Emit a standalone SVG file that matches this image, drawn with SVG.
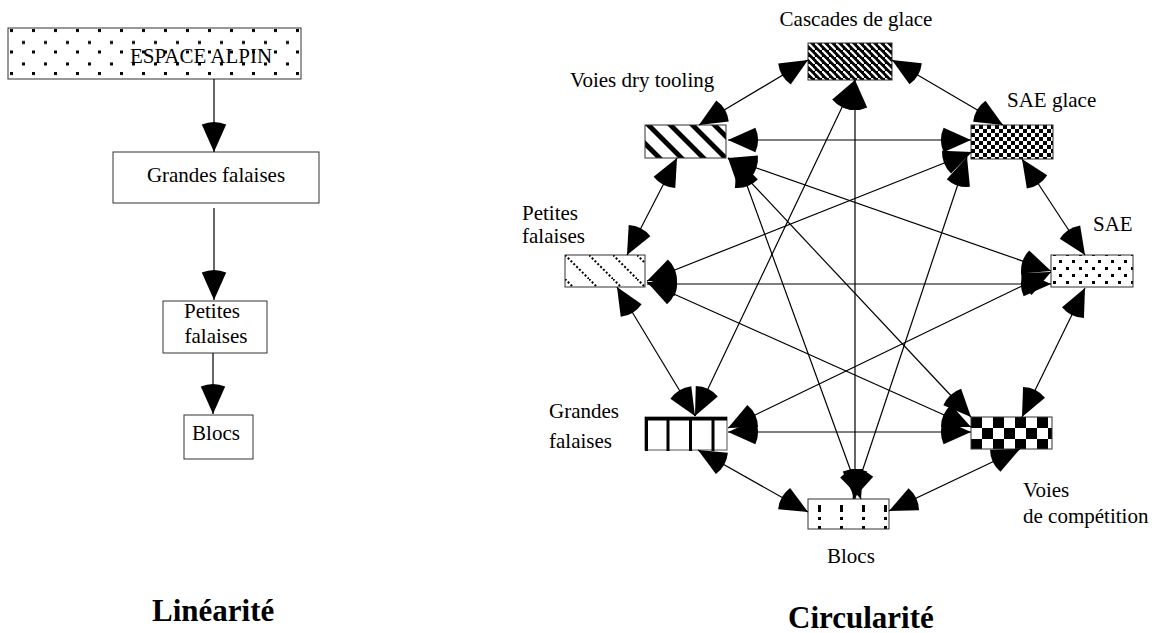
<svg xmlns="http://www.w3.org/2000/svg" width="1158" height="633" viewBox="0 0 1158 633" font-family="'Liberation Serif', Tinos, 'DejaVu Serif', 'Noto Serif', serif">
<style>
text{font-family:"Liberation Serif",Tinos,"DejaVu Serif","Noto Serif",serif;font-size:21px;fill:#000}
.t{font-weight:bold;font-size:31px}
.box{stroke:#333;stroke-width:1}
.e{stroke:#000;stroke-width:1.2;fill:none;marker-start:url(#h);marker-end:url(#h)}
.s{stroke:#000;stroke-width:1.2;fill:none;marker-end:url(#h)}
</style>
<defs>
<marker id="h" markerUnits="userSpaceOnUse" orient="auto-start-reverse" refX="0" refY="0" markerWidth="40" markerHeight="40" overflow="visible">
<path d="M0,0 L-27.4,-12.2 A30,30 0 0 0 -27.4,12.2 Z" fill="#000"/>
</marker>
<pattern id="pAlp" patternUnits="userSpaceOnUse" x="0" y="28" width="22" height="21.5">
<rect x="10" y="1" width="3" height="3" fill="#000"/>
<rect x="0" y="13" width="3" height="3" fill="#000"/>
</pattern>
<pattern id="pCas" patternUnits="userSpaceOnUse" x="808" y="43" width="7" height="7">
<rect width="7" height="7" fill="#000"/>
<path d="M0,0 L1.6,0 L7,5.4 L7,7 L5.4,7 L0,1.6 Z" fill="#fff"/>
</pattern>
<pattern id="pDry" patternUnits="userSpaceOnUse" x="645" y="125" width="22" height="22">
<rect width="22" height="22" fill="#fff"/>
<path d="M0,0 L7,0 L22,15 L22,22 Z M0,15 L7,22 L0,22 Z" fill="#000"/>
</pattern>
<pattern id="pSg" patternUnits="userSpaceOnUse" x="971" y="125" width="8" height="8">
<rect width="8" height="8" fill="#fff"/>
<rect width="4" height="4" fill="#000"/>
<rect x="4" y="4" width="4" height="4" fill="#000"/>
</pattern>
<pattern id="pSae" patternUnits="userSpaceOnUse" x="1051" y="260" width="13" height="14">
<rect width="13" height="14" fill="#fff"/>
<rect x="8" y="0" width="3" height="3" fill="#000"/>
<rect x="2" y="7" width="3" height="3" fill="#000"/>
</pattern>
<pattern id="pPf" patternUnits="userSpaceOnUse" x="565" y="255" width="24" height="24">
<rect width="24" height="24" fill="#fff"/>
<path d="M0,0 L24,24" stroke="#000" stroke-width="2" stroke-dasharray="2,2"/>
</pattern>
<pattern id="pBl" patternUnits="userSpaceOnUse" x="808" y="499" width="22" height="30">
<rect width="22" height="30" fill="#fff"/>
<rect x="10" y="6" width="3" height="7" fill="#000"/>
<rect x="10" y="18" width="3" height="3" fill="#000"/>
<rect x="10" y="27" width="3" height="3" fill="#000"/>
</pattern>
<pattern id="pVc" patternUnits="userSpaceOnUse" x="971" y="417" width="22" height="22">
<rect width="22" height="22" fill="#fff"/>
<rect width="11" height="11" fill="#000"/>
<rect x="11" y="11" width="11" height="11" fill="#000"/>
</pattern>
</defs>
<rect width="1158" height="633" fill="#fff"/>

<!-- Left: linearity -->
<g id="l-espace">
<rect class="box" x="8" y="28" width="293" height="51" fill="url(#pAlp)"/>
<text x="130" y="63">ESPACE ALPIN</text>
</g>
<g id="l-grandes">
<rect class="box" x="113" y="152" width="206" height="51" fill="#fff"/>
<text x="216" y="182" text-anchor="middle">Grandes falaises</text>
</g>
<g id="l-petites">
<rect class="box" x="163" y="301" width="104" height="52" fill="#fff"/>
<text x="212" y="318" text-anchor="middle">Petites</text>
<text x="216" y="343" text-anchor="middle">falaises</text>
</g>
<g id="l-blocs">
<rect class="box" x="184" y="415" width="69" height="44" fill="#fff"/>
<text x="216" y="440" text-anchor="middle">Blocs</text>
</g>
<g id="l-connectors">
<line class="s" x1="214" y1="79" x2="214" y2="152"/>
<line class="s" x1="214" y1="208" x2="214" y2="300"/>
<line class="s" x1="213" y1="353" x2="213" y2="414"/>
</g>
<text class="t" x="152" y="621">Linéarité</text>

<!-- Right: circularity -->
<g id="n-cascades">
<rect class="box" x="808" y="43" width="84" height="37" fill="url(#pCas)"/>
<text x="856" y="26" text-anchor="middle">Cascades de glace</text>
</g>
<g id="n-dry">
<rect class="box" x="645" y="125" width="81" height="33" fill="url(#pDry)"/>
<text x="570" y="87">Voies dry tooling</text>
</g>
<g id="n-saeglace">
<rect class="box" x="971" y="125" width="82" height="34" fill="url(#pSg)"/>
<text x="1007" y="107">SAE glace</text>
</g>
<g id="n-sae">
<rect class="box" x="1051" y="255" width="82" height="32" fill="url(#pSae)"/>
<text x="1093" y="231">SAE</text>
</g>
<g id="n-petites">
<rect class="box" x="565" y="255" width="80" height="32" fill="url(#pPf)"/>
<text x="522" y="220">Petites</text>
<text x="522" y="243">falaises</text>
</g>
<g id="n-grandes">
<rect x="645" y="417" width="82" height="33" fill="#fff" stroke="#555" stroke-width="1"/>
<rect x="645" y="417" width="82" height="3.5" fill="#000"/>
<rect x="645" y="417" width="3" height="34" fill="#000"/>
<rect x="666.5" y="417" width="3" height="34" fill="#000"/>
<rect x="689" y="417" width="3" height="34" fill="#000"/>
<rect x="711.5" y="417" width="3" height="34" fill="#000"/>
<text x="549" y="418">Grandes</text>
<text x="549" y="448">falaises</text>
</g>
<g id="n-blocs">
<rect class="box" x="808" y="499" width="81" height="30" fill="url(#pBl)"/>
<text x="827" y="563">Blocs</text>
</g>
<g id="n-competition">
<rect class="box" x="971" y="417" width="81" height="32" fill="url(#pVc)"/>
<text x="1023" y="497">Voies</text>
<text x="1023" y="523">de compétition</text>
</g>

<g id="connectors">
<line class="e" x1="808" y1="60" x2="699" y2="125"/>
<line class="e" x1="892" y1="60" x2="1003" y2="125"/>
<line class="e" x1="855" y1="80" x2="855" y2="499"/>
<line class="e" x1="855" y1="80" x2="695" y2="416"/>
<line class="e" x1="728" y1="140" x2="971" y2="140"/>
<line class="e" x1="677" y1="158" x2="627" y2="255"/>
<line class="e" x1="728" y1="158" x2="971" y2="417"/>
<line class="e" x1="737" y1="158" x2="861" y2="499"/>
<line class="e" x1="728" y1="158" x2="1051" y2="271"/>
<line class="e" x1="972" y1="152" x2="647" y2="281"/>
<line class="e" x1="967" y1="157" x2="853" y2="499"/>
<line class="e" x1="1022" y1="159" x2="1085" y2="255"/>
<line class="e" x1="1051" y1="284" x2="647" y2="284"/>
<line class="e" x1="1051" y1="272" x2="728" y2="428"/>
<line class="e" x1="1085" y1="288" x2="1022" y2="417"/>
<line class="e" x1="647" y1="282" x2="971" y2="427"/>
<line class="e" x1="617" y1="287" x2="695" y2="416"/>
<line class="e" x1="728" y1="432" x2="971" y2="432"/>
<line class="e" x1="698" y1="450" x2="808" y2="512"/>
<line class="e" x1="1020" y1="449" x2="889" y2="511"/>
</g>
<text class="t" x="788" y="628">Circularité</text>
</svg>
